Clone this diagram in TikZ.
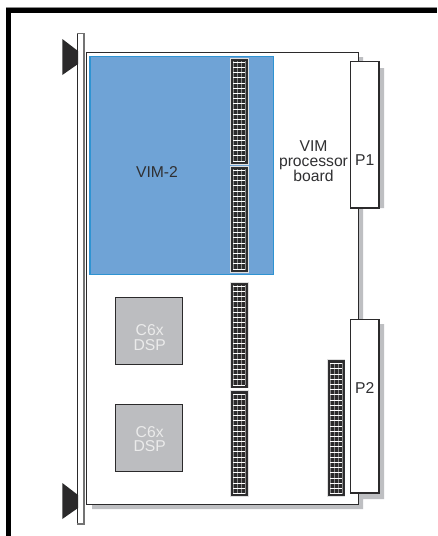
\documentclass[tikz,border=0pt]{standalone}
\usepackage{fontspec}
\setmainfont{Liberation Sans}
\definecolor{shadowgray}{HTML}{BEBFC2}
\definecolor{bluefill}{HTML}{6FA3D6}
\definecolor{blueedge}{HTML}{2E93D2}
\definecolor{ink}{HTML}{2B2A2B}
\definecolor{chipgray}{HTML}{BCBDC0}
\definecolor{labelgray}{HTML}{303032}
\newcommand{\connblock}[4]{%
  \draw[black!12,line width=.8pt] (#1-.8,#2-.8) rectangle (#3+.8,#4+.8);
  \fill[ink] (#1,#2) rectangle (#3,#4);
  \pgfmathsetmacro{\rowcount}{int((#4-#2-3)/5.2)}
  \foreach \cx in {2.2,6.2,10.2,14.2}
    \draw[black!45,line width=.9pt] (#1+\cx,#2+2) -- (#1+\cx,#4-2);
  \foreach \ri in {0,...,\rowcount}
    \draw[white,line width=1pt] (#1+2,#2+3.2+5.2*\ri) -- (#3-2,#2+3.2+5.2*\ri);
  \draw[labelgray,line width=.9pt] (#1,#2) rectangle (#3,#4);
}
\tikzset{
  panel/.style={draw=ink,fill=white,line width=1.1pt},
  blabel/.style={font=\fontsize{15.7}{14.6}\selectfont,text=labelgray,align=center,inner sep=0pt},
  chiplabel/.style={font=\fontsize{15.7}{14.6}\selectfont,text=white!92!black,align=center,inner sep=0pt},
  chip/.style={draw=ink,fill=chipgray,line width=.9pt},
  tri/.style={fill=ink,draw=none}
}
\begin{document}
\begin{tikzpicture}[x=1pt,y=-1pt]
\useasboundingbox (0,0) rectangle (437,536);
\fill[white] (0,0) rectangle (437,536);
% page frame
\fill[black!45] (6,7) rectangle (437,8);
\fill[black] (6,8) rectangle (437,12.8);
\fill[black] (6,8) rectangle (11,536);
% board shadow
\fill[shadowgray] (92,509) -- (363,509) -- (363,499) -- (384,499) -- (384,324) -- (363,324) -- (363,208) -- (384,208) -- (384,68) -- (363,68) -- (363,57) -- (92,57) -- cycle;
% board
\draw[panel,line width=1pt] (86.7,52.7) rectangle (358,504);
% front panel
\fill[white] (77,33.5) rectangle (84,524);
\draw[ink,line width=.7pt] (77,33.5) -- (77,524);
\draw[gray!90!black,line width=1.3pt] (77,33.5) -- (84,33.5) -- (84,524) -- (77,524);
% handles
\fill[tri] (62.3,39) -- (78,51) -- (78,64) -- (62.3,75) -- cycle;
\fill[tri] (62.3,483) -- (78,495) -- (78,508) -- (62.3,519) -- cycle;
% VIM-2
\draw[blueedge,fill=bluefill,line width=1.4pt] (90,56.2) rectangle (273.3,274.3);
\node[blabel] (vimtwo) at (157,172.5) {VIM-2};
% connectors
\connblock{231.3}{59}{247.3}{163.3}
\connblock{231.3}{167}{247.3}{271.5}
\connblock{231.3}{283}{247.3}{387}
\connblock{231.3}{391.5}{247.3}{495.5}
\connblock{328}{360.5}{344}{495.8}
% P1, P2
\draw[panel] (350.3,61.8) rectangle (379,208);
\draw[panel] (350.3,319.3) rectangle (379,493);
\node[blabel] (pone) at (364.7,160) {P1};
\node[blabel] (ptwo) at (364.7,388) {P2};
\node[blabel] (board) at (313.5,161.5) {VIM\\processor\\board};
% chips
\draw[chip] (115.5,297.7) rectangle (182.6,364.3);
\draw[chip] (115.5,404) rectangle (182.6,471);
\node[chiplabel] (dspa) at (149.7,337.5) {C6x\\DSP};
\node[chiplabel] (dspb) at (149.7,439) {C6x\\DSP};
\end{tikzpicture}
\end{document}
